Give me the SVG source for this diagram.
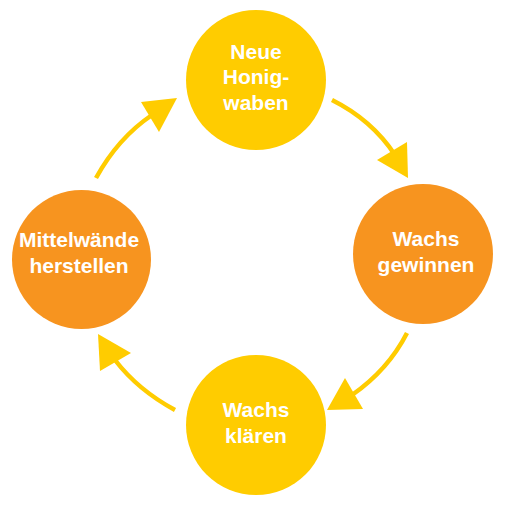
<svg xmlns="http://www.w3.org/2000/svg" width="506" height="510" viewBox="0 0 506 510">
<style>
.y{fill:#FFCC00}
.o{fill:#F7941F}
.t{fill:#fff;font-family:"Liberation Sans",Arial,sans-serif;font-weight:bold;font-size:21px;text-anchor:middle}
.l{fill:none;stroke:#FFCC00;stroke-width:4.5}
.h{fill:#FFCC00}
</style>
<rect width="506" height="510" fill="#fff"/>
<g id="connectors">
<path class="l" d="M332,100 Q372,120 395,155"/>
<polygon class="h" points="377,160 407,142 408,178"/>
<path class="l" d="M407,333 Q388,370 352,395"/>
<polygon class="h" points="345,378 363,409 327,410"/>
<path class="l" d="M175,410 Q138,390 115,360"/>
<polygon class="h" points="98,334 131,353 100,371"/>
<path class="l" d="M96,178 Q118,138 152,115"/>
<polygon class="h" points="177,98 141,102 159,132"/>
</g>
<g id="node-neue-honigwaben">
<circle class="y" cx="256" cy="80" r="70"/>
<text class="t" x="256" y="58.5">Neue</text>
<text class="t" x="256" y="84">Honig-</text>
<text class="t" x="256" y="109.5">waben</text>
</g>
<g id="node-wachs-gewinnen">
<circle class="o" cx="423" cy="254" r="70"/>
<text class="t" x="426" y="246">Wachs</text>
<text class="t" x="426" y="272">gewinnen</text>
</g>
<g id="node-wachs-klaeren">
<circle class="y" cx="256" cy="425" r="70"/>
<text class="t" x="256" y="417">Wachs</text>
<text class="t" x="256" y="443">klären</text>
</g>
<g id="node-mittelwaende">
<circle class="o" cx="81.5" cy="259.5" r="69.5"/>
<text class="t" x="79" y="247">Mittelwände</text>
<text class="t" x="79" y="272.5">herstellen</text>
</g>
</svg>
